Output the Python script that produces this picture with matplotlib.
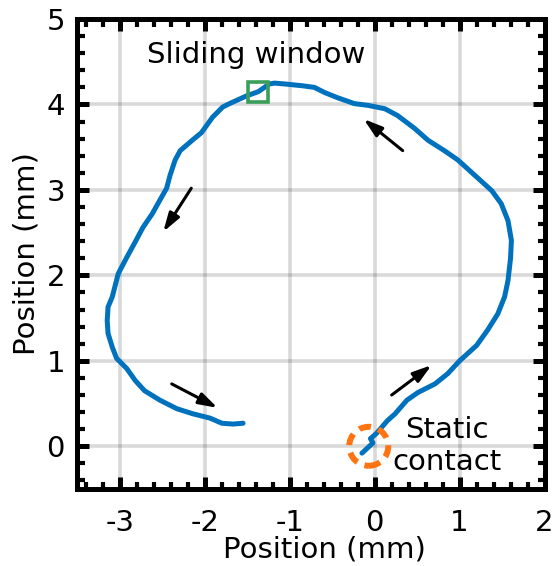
import matplotlib
matplotlib.use("Agg")
import matplotlib.pyplot as plt
from matplotlib.patches import Ellipse
from matplotlib.ticker import MultipleLocator

plt.rcParams['font.family'] = ['DejaVu Sans']
plt.rcParams['axes.unicode_minus'] = False

# Tracked contact position (mm), in drawing order
x_pos = [-0.15, -0.02, -0.05, 0.02, 0.15, 0.24, 0.38, 0.51, 0.71, 0.86, 1.00, 1.20,
         1.33, 1.45, 1.53, 1.57, 1.60, 1.61, 1.57, 1.49, 1.38, 1.18, 0.98, 0.82,
         0.63, 0.47, 0.27, 0.12, -0.08, -0.24, -0.44, -0.59, -0.71, -0.86, -1.06,
         -1.18, -1.24, -1.37, -1.51, -1.71, -1.79, -1.91, -2.04, -2.15, -2.29,
         -2.35, -2.41, -2.45, -2.53, -2.62, -2.73, -2.81, -2.92, -3.02, -3.09,
         -3.14, -3.15, -3.14, -3.09, -3.04, -2.92, -2.82, -2.71, -2.53, -2.33,
         -2.14, -1.94, -1.80, -1.67, -1.55]
y_pos = [-0.08, 0.04, 0.09, 0.15, 0.30, 0.38, 0.54, 0.63, 0.73, 0.85, 1.00, 1.18,
         1.36, 1.55, 1.75, 1.94, 2.20, 2.41, 2.64, 2.84, 2.99, 3.17, 3.35, 3.46,
         3.58, 3.72, 3.87, 3.95, 3.99, 4.01, 4.08, 4.14, 4.20, 4.22, 4.24, 4.25,
         4.24, 4.15, 4.10, 4.01, 3.97, 3.85, 3.67, 3.58, 3.46, 3.35, 3.17, 3.02,
         2.88, 2.72, 2.56, 2.41, 2.21, 2.02, 1.75, 1.63, 1.47, 1.32, 1.16, 1.03,
         0.91, 0.77, 0.65, 0.54, 0.44, 0.38, 0.33, 0.27, 0.26, 0.27]

# Direction arrows: (tail, head)
arrow_tails = [(0.20, 0.60), (0.33, 3.46), (-2.16, 3.02), (-2.39, 0.73)]
arrow_heads = [(0.67, 0.95), (-0.13, 3.83), (-2.49, 2.51), (-1.85, 0.45)]

window_pos = (-1.37, 4.15)
static_pos = (-0.07, 0.0)

x_ticks = [-3, -2, -1, 0, 1, 2]
y_ticks = [0, 1, 2, 3, 4, 5]

fig = plt.figure(figsize=(5.55, 5.66), dpi=100)
ax = fig.add_axes([0.1396, 0.1360, 0.8415, 0.8304])

ax.grid(True, which='major', color='k', alpha=0.15, linewidth=2.6, zorder=0)
ax.set_axisbelow(True)

ax.plot(x_pos, y_pos, color='#0072BD', linewidth=3.6, solid_capstyle='round',
        solid_joinstyle='round', zorder=3)

for tail, head in zip(arrow_tails, arrow_heads):
    ax.annotate('', xy=head, xytext=tail,
                arrowprops=dict(arrowstyle='-|>,head_length=0.8,head_width=0.25',
                                color='k', lw=2.2, shrinkA=0, shrinkB=0,
                                mutation_scale=14),
                zorder=4)

ax.plot([window_pos[0]], [window_pos[1]], marker='s', markersize=14,
        markerfacecolor='none', markeredgecolor='#3A9E5A', markeredgewidth=2.6,
        zorder=5)

ax.add_patch(Ellipse(static_pos, 0.46, 0.456, fill=False, edgecolor='#FF7410',
                     linewidth=4.3, linestyle=(0, (2.0, 1.3)), zorder=5))

ax.text(-1.39, 4.48, 'Sliding window', fontsize=21, ha='center', va='baseline')
ax.text(0.85, 0.0, 'Static\ncontact', fontsize=21, ha='center', va='center',
        linespacing=1.2)

ax.set_xlim(-3.5, 2)
ax.set_ylim(-0.5, 5)
ax.set_xticks(x_ticks)
ax.set_yticks(y_ticks)
ax.xaxis.set_minor_locator(MultipleLocator(0.2))
ax.yaxis.set_minor_locator(MultipleLocator(0.2))

ax.tick_params(which='both', direction='in', top=True, right=True, colors='k')
ax.tick_params(which='major', length=8.3, width=3.6, labelsize=21)
ax.tick_params(which='minor', length=5.4, width=3.0)
ax.tick_params(axis='x', which='major', pad=14.5)
ax.tick_params(axis='y', which='major', pad=9)

for sp in ax.spines.values():
    sp.set_linewidth(3.6)
    sp.set_color('k')

ax.set_xlabel('Position (mm)', fontsize=21, labelpad=-1)
ax.set_ylabel('Position (mm)', fontsize=21, labelpad=4)
ax.xaxis.set_label_coords(0.528, -0.098)

fig.savefig('out.png', dpi=100)
